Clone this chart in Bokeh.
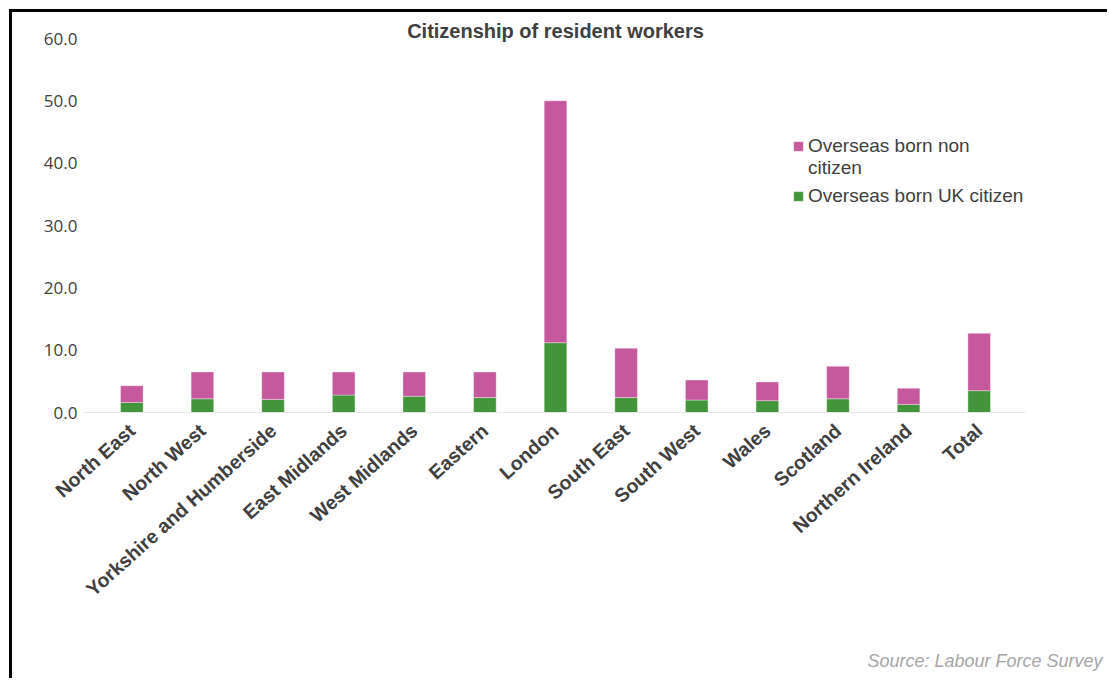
from bokeh.plotting import figure
from bokeh.models import (ColumnDataSource, Legend, LegendItem, Title, FactorRange,
                          Range1d, FixedTicker, NumeralTickFormatter)
from bokeh.embed import file_html
from bokeh.resources import INLINE

categories = ["North East", "North West", "Yorkshire and Humberside", "East Midlands",
              "West Midlands", "Eastern", "London", "South East", "South West", "Wales",
              "Scotland", "Northern Ireland", "Total"]
uk_citizen = [1.6, 2.2, 2.1, 2.8, 2.6, 2.4, 11.2, 2.4, 2.0, 1.9, 2.2, 1.3, 3.5]
non_citizen = [2.7, 4.3, 4.4, 3.7, 3.9, 4.1, 38.8, 7.9, 3.2, 3.0, 5.2, 2.6, 9.2]
y_ticks = [0, 10, 20, 30, 40, 50, 60]
legend_lines_non = ["Overseas born non", "citizen"]
legend_uk = "Overseas born UK citizen"
title_text = "Citizenship of resident workers"
source_text = "Source: Labour Force Survey"

PINK = "#C6589E"
GREEN = "#43953B"
TEXT = "#404040"

src = ColumnDataSource(dict(cat=categories, uk=uk_citizen, non=non_citizen))

p = figure(x_range=FactorRange(*categories, range_padding=0.17, range_padding_units="absolute"),
           y_range=Range1d(0, 60),
           frame_width=942, frame_height=374,
           output_backend="svg", toolbar_location=None,
           min_border_left=72, min_border_right=81,
           min_border_top=26, min_border_bottom=266)
p.styles = {"margin-top": "9px", "margin-left": "9px",
            "border-top": "3px solid #000000", "border-left": "3px solid #000000"}
p.outline_line_color = None
p.background_fill_color = "white"
p.border_fill_color = "white"
p.xgrid.grid_line_color = None
p.ygrid.grid_line_color = None

rs = p.vbar_stack(["uk", "non"], x="cat", width=0.32, source=src,
                  color=[GREEN, PINK], line_color="white", line_alpha=0.35, line_width=1)
# invisible renderer used only for the second line of the first legend entry
blank = p.vbar(x=[], top=[], width=0.32, fill_alpha=0, line_alpha=0)

# axes
p.yaxis.ticker = FixedTicker(ticks=y_ticks)
p.yaxis.formatter = NumeralTickFormatter(format="0.0")
p.yaxis.axis_line_color = None
p.yaxis.major_tick_line_color = None
p.yaxis.minor_tick_line_color = None
p.yaxis.major_label_standoff = 1
p.yaxis.major_label_text_font = "Open Sans"
p.yaxis.major_label_text_font_size = "17px"
p.yaxis.major_label_text_color = TEXT

p.xaxis.axis_line_color = "#e8e8e8"
p.xaxis.axis_line_width = 1
p.xaxis.major_tick_line_color = None
p.xaxis.minor_tick_line_color = None
p.xaxis.major_label_orientation = 0.73
p.xaxis.major_label_standoff = 9
p.xaxis.major_label_text_font = "Liberation Sans"
p.xaxis.major_label_text_font_style = "bold"
p.xaxis.major_label_text_font_size = "19.5px"
p.xaxis.major_label_text_color = TEXT

legend_style = dict(orientation="vertical", border_line_color=None, background_fill_alpha=0,
                    padding=0, margin=0, spacing=0, glyph_width=12, glyph_height=12,
                    label_standoff=4, label_text_font="Liberation Sans",
                    label_text_font_size="19px", label_text_color=TEXT, label_height=20)
legend_a = Legend(items=[LegendItem(label=legend_lines_non[0], renderers=[rs[1]]),
                         LegendItem(label=legend_lines_non[1], renderers=[blank])],
                  location=(708, 233), **legend_style)
legend_b = Legend(items=[LegendItem(label=legend_uk, renderers=[rs[0]])],
                  location=(708, 205), **legend_style)
p.add_layout(legend_a)
p.add_layout(legend_b)

p.add_layout(Title(text=title_text, align="center", standoff=-7, vertical_align="bottom",
                   text_font="Liberation Sans", text_font_style="bold",
                   text_font_size="20px", text_color=TEXT), "above")
# spacer between the category labels and the source note
p.add_layout(Title(text=" ", standoff=33, text_font_size="2px"), "below")
p.add_layout(Title(text=source_text, align="left", offset=783, standoff=0,
                   vertical_align="bottom",
                   text_font="Liberation Sans", text_font_style="italic",
                   text_font_size="18px", text_color="#a6a6a6"), "below")

open("out.html", "w").write(file_html(p, INLINE))
